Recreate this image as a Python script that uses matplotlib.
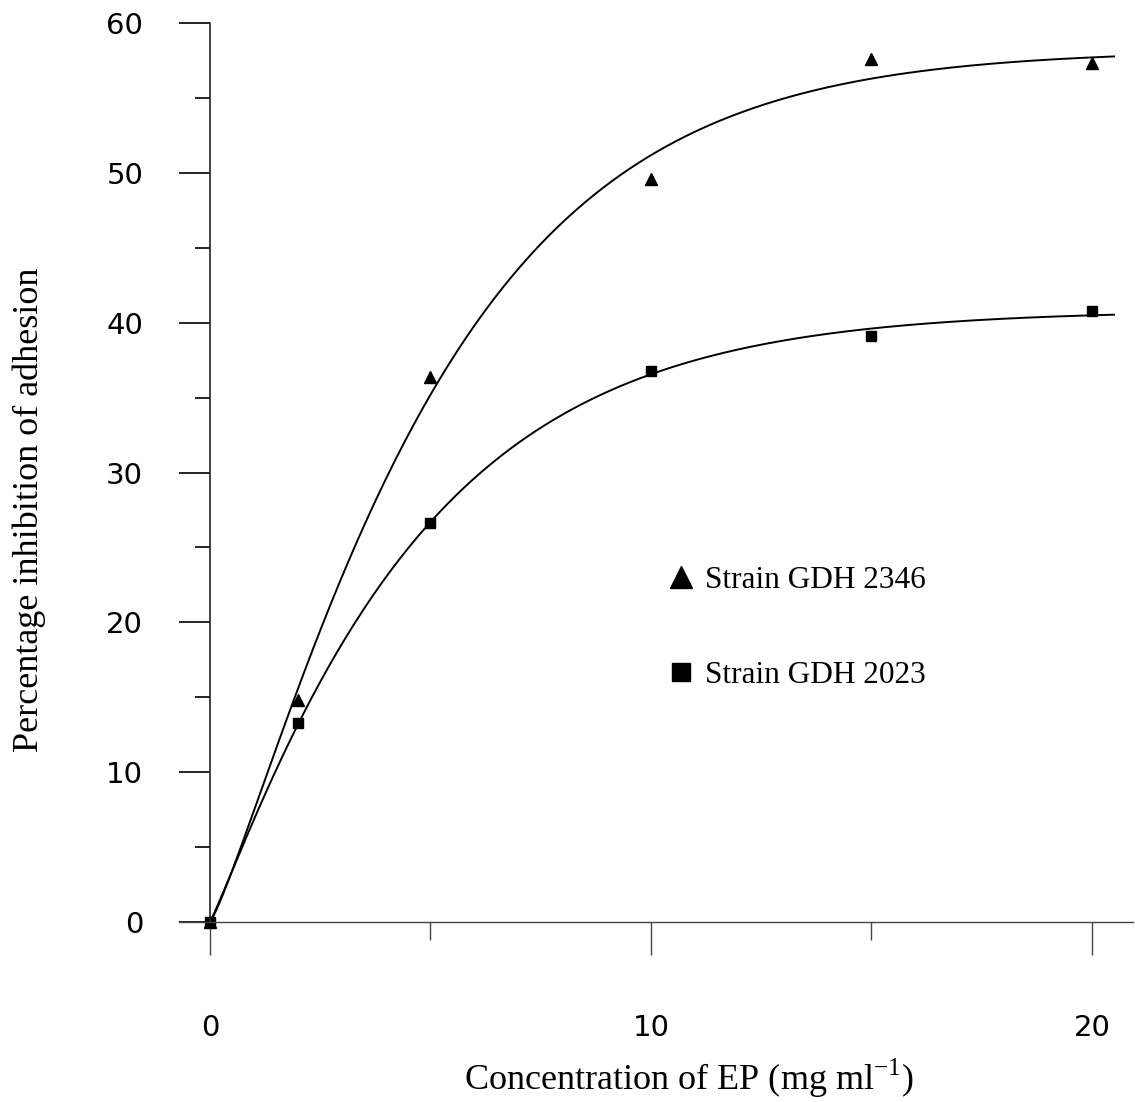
import numpy as np
import matplotlib
matplotlib.use("Agg")
import matplotlib.pyplot as plt
from matplotlib.ticker import MultipleLocator

# concentration of EP (mg/ml)
conc = [0, 2, 5, 10, 15, 20]
gdh2346 = [0, 14.8, 36.4, 49.6, 57.6, 57.3]
gdh2023 = [0, 13.3, 26.6, 36.8, 39.1, 40.8]
x_ticks = [0, 10, 20]
y_ticks = [0, 10, 20, 30, 40, 50, 60]


def fit_curve(x, y, x_new):
    """Least-squares fit of y = a * (1 - exp(-b * x**c)), grid search on b, c."""
    x = np.asarray(x, float)
    y = np.asarray(y, float)
    best = None
    for b in np.linspace(0.02, 0.6, 150):
        for c in np.linspace(0.6, 1.8, 121):
            g = 1 - np.exp(-b * x ** c)
            a = g.dot(y) / g.dot(g)
            sse = ((a * g - y) ** 2).sum()
            if best is None or sse < best[0]:
                best = (sse, a, b, c)
    _, a, b, c = best
    return a * (1 - np.exp(-b * x_new ** c))


fig = plt.figure(figsize=(11.35, 11.02), dpi=100)
ax = fig.add_axes([0.1577, 0.1633, 0.8405, 0.8158])

xs = np.linspace(0, 20.5, 300)
ax.plot(xs, fit_curve(conc, gdh2346, xs), color='black', lw=1.4)
ax.plot(xs, fit_curve(conc, gdh2023, xs), color='black', lw=1.4)

ax.plot(conc, gdh2346, '^', color='black', ms=8, clip_on=False, label='Strain GDH 2346')
ax.plot(conc, gdh2023, 's', color='black', ms=7, clip_on=False, label='Strain GDH 2023')

ax.set_xlim(-0.7, 20.93)
ax.set_ylim(0, 60)

for s in ['top', 'right']:
    ax.spines[s].set_visible(False)
ax.spines['left'].set_position(('data', 0))
ax.spines['left'].set_color('#222222')
ax.spines['bottom'].set_color('#444444')
ax.spines['left'].set_linewidth(1.2)
ax.spines['bottom'].set_linewidth(1.0)

ax.set_xticks(x_ticks)
ax.set_yticks(y_ticks)
ax.xaxis.set_minor_locator(MultipleLocator(5))
ax.yaxis.set_minor_locator(MultipleLocator(5))

ax.tick_params(axis='x', which='major', direction='out', length=24, width=1, pad=42,
               labelsize=21, color='#444444')
ax.tick_params(axis='x', which='minor', direction='out', length=13, width=1, color='#444444')
ax.tick_params(axis='y', which='major', direction='out', length=22, width=1.2, pad=26,
               labelsize=21)
ax.tick_params(axis='y', which='minor', direction='out', length=11, width=1.2)

fig.text(0.607, 0.011, 'Concentration of EP (mg ml$^{\\mathregular{-1}}$)', family='Liberation Serif',
         fontsize=26, ha='center', va='baseline')
fig.text(0.026, 0.537, 'Percentage inhibition of adhesion', family='Liberation Serif',
         fontsize=26, rotation=90, ha='center', va='center')

ax.legend(loc='upper left', bbox_to_anchor=(0.512, 0.396), frameon=False,
          prop={'family': 'Liberation Serif', 'size': 22.5}, handlelength=0.9,
          handletextpad=0.3, labelspacing=2.1, borderpad=0, borderaxespad=0,
          numpoints=1, markerscale=1.9)

fig.savefig('out.png', dpi=100)
